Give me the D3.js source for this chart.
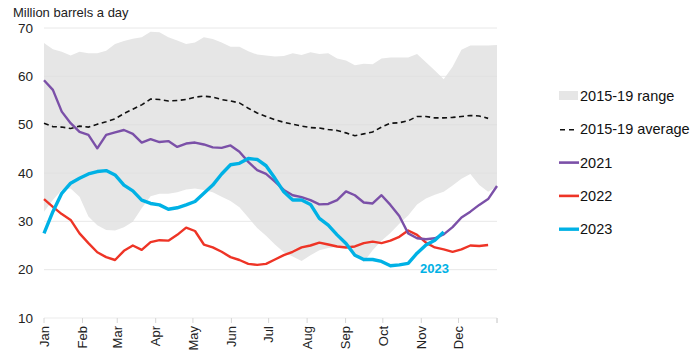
<!DOCTYPE html>
<html><head><meta charset="utf-8">
<script src="https://cdn.jsdelivr.net/npm/d3@7"></script>
<style>body{margin:0;background:#fff}svg{display:block;font-family:"Liberation Sans",Arial,sans-serif}</style>
</head><body><svg id="c" width="700" height="360"></svg>
<script>
const yTicks = [10,20,30,40,50,60,70];
const months = ["Jan","Feb","Mar","Apr","May","Jun","Jul","Aug","Sep","Oct","Nov","Dec"];
const rangeHigh = [66.9,65.6,65.1,64.3,65.1,64.8,64.8,65.3,66.7,67.3,67.8,68.1,69.2,69.1,68.1,67.4,66.7,67.0,68.1,67.7,67.0,66.1,66.1,65.2,64.5,64.3,64.1,64.2,64.8,64.4,65.0,64.6,64.8,63.7,63.3,62.3,62.6,62.5,63.7,63.9,63.9,63.9,64.6,62.9,61.2,59.4,62.0,65.5,66.4,66.4,66.4,66.5];
const rangeLow = [32.0,34.4,36.5,36.8,35.1,31.0,29.2,28.2,28.1,28.8,29.9,32.7,35.2,35.7,35.7,36.0,36.6,36.8,36.5,36.0,35.1,34.2,32.9,30.8,28.6,27.0,25.2,23.6,22.7,21.8,23.0,24.0,24.5,24.7,24.6,23.0,21.6,24.0,26.0,27.6,29.5,31.2,33.5,34.7,35.5,36.1,37.4,38.8,39.8,37.5,36.1,37.2];
const avg1519 = [50.3,49.6,49.5,49.2,49.7,49.5,50.1,50.6,51.2,52.3,53.2,54.1,55.3,55.2,54.9,55.0,55.2,55.7,55.9,55.7,55.2,54.9,54.5,53.4,52.4,51.7,51.0,50.5,50.1,49.7,49.4,49.3,49.0,48.8,48.3,47.7,48.1,48.5,49.5,50.3,50.4,50.8,51.7,51.7,51.4,51.4,51.5,51.7,51.9,51.8,51.3];
const y2021 = [59.2,57.2,52.7,50.3,48.5,47.9,45.1,47.9,48.4,48.9,48.1,46.3,47.0,46.4,46.6,45.4,46.1,46.3,45.9,45.3,45.2,45.7,44.4,42.3,40.6,39.8,38.2,36.5,35.4,35.0,34.4,33.5,33.6,34.4,36.2,35.4,33.9,33.7,35.4,33.4,31.1,27.5,26.5,26.3,26.5,27.3,28.8,30.8,32.0,33.4,34.6,37.3];
const y2022 = [34.6,33.0,31.5,30.3,27.5,25.5,23.6,22.6,22.0,23.9,25.0,24.1,25.7,26.1,26.0,27.2,28.7,28.0,25.2,24.6,23.7,22.6,22.0,21.2,21.0,21.2,22.1,23.0,23.7,24.6,25.0,25.6,25.2,24.8,24.6,24.8,25.5,25.8,25.5,26.0,26.8,28.1,27.2,25.6,24.6,24.2,23.7,24.2,25.0,24.9,25.1];
const y2023 = [27.5,32.0,35.8,37.9,38.9,39.8,40.3,40.5,39.6,37.5,36.3,34.4,33.7,33.4,32.5,32.8,33.4,34.1,35.8,37.5,39.8,41.7,42.0,43.0,42.8,41.5,38.9,36.1,34.4,34.4,33.5,30.6,29.2,27.2,25.4,23.0,22.1,22.1,21.7,20.8,21.0,21.3,23.4,25.1,26.1,27.8];
const legendItems = [
  {label:"2015-19 range", type:"area"},
  {label:"2015-19 average", type:"dash"},
  {label:"2021", type:"line", color:"#7b50a8"},
  {label:"2022", type:"line", color:"#ee3426"},
  {label:"2023", type:"line", color:"#00b1e5"}
];

const svg = d3.select("#c");
const X0 = 44, X1 = 497, YT = 28, YB = 318;
const y = d3.scaleLinear().domain([10,70]).range([YB,YT]);
const xT = d3.scaleTime().domain([new Date(2023,0,1), new Date(2024,0,1)]).range([X0,X1]);
const xW = d3.scaleLinear().domain([0,51]).range([X0,X1]);

// title
svg.append("text").attr("x",13).attr("y",17).attr("font-size",13).attr("fill","#222").text("Million barrels a day");

// range area
const area = d3.area().x((d,i)=>xW(i)).y0((d,i)=>y(rangeLow[i])).y1(d=>y(d));
svg.append("path").datum(rangeHigh).attr("d",area).attr("fill","#e6e6e6");

// gridlines
svg.append("g").selectAll("line").data(yTicks).join("line")
  .attr("x1",X0).attr("x2",X1).attr("y1",d=>y(d)).attr("y2",d=>y(d))
  .attr("stroke",d=>d===10?"#e2e2e2":"#dedede").attr("stroke-opacity",0.7).attr("stroke-width",1);

// y labels
svg.append("g").selectAll("text").data(yTicks).join("text")
  .attr("x",33).attr("y",d=>y(d)).attr("dy","0.35em").attr("text-anchor","end")
  .attr("font-size",13.5).attr("fill","#222").text(d=>d);

// x ticks
const mTicks = xT.ticks(d3.timeMonth.every(1)).concat([new Date(2024,0,1)]);
svg.append("g").selectAll("line").data(mTicks).join("line")
  .attr("x1",d=>xT(d)).attr("x2",d=>xT(d)).attr("y1",YB).attr("y2",YB+5)
  .attr("stroke","#d6d6d6");
const mLab = svg.append("g").selectAll("g").data(mTicks.slice(0,12)).join("g")
  .attr("transform",d=>`translate(${xT(d)},${YB})`);
mLab.append("text").attr("transform","rotate(-90)").attr("x",-8).attr("dy","0.36em")
  .attr("text-anchor","end").attr("font-size",13).attr("fill","#222")
  .text((d,i)=>months[i]);

// lines
const line = d3.line().x((d,i)=>xW(i)).y(d=>y(d));
svg.append("path").datum(avg1519).attr("d",line).attr("fill","none")
  .attr("stroke","#111").attr("stroke-width",1.6).attr("stroke-dasharray","5,3.5");
svg.append("path").datum(y2022).attr("d",line).attr("fill","none")
  .attr("stroke",legendItems[3].color).attr("stroke-width",2.4).attr("stroke-linejoin","round");
svg.append("path").datum(y2021).attr("d",line).attr("fill","none")
  .attr("stroke",legendItems[2].color).attr("stroke-width",2.4).attr("stroke-linejoin","round");
svg.append("path").datum(y2023).attr("d",line).attr("fill","none")
  .attr("stroke",legendItems[4].color).attr("stroke-width",3.4).attr("stroke-linejoin","round");

// 2023 label
svg.append("text").attr("x",xW(42)+3).attr("y",y(20)+3.5).attr("font-size",13).attr("font-weight","bold")
  .attr("fill",legendItems[4].color).text("2023");

// legend
const lg = svg.append("g").selectAll("g").data(legendItems).join("g")
  .attr("transform",(d,i)=>`translate(559,${96+i*33.3})`);
lg.each(function(d){
  const g = d3.select(this);
  if(d.type==="area") g.append("rect").attr("x",0).attr("y",-5).attr("width",19).attr("height",9).attr("fill","#e6e6e6");
  else if(d.type==="dash") g.append("line").attr("x1",1).attr("x2",15).attr("y1",0.5).attr("y2",0.5)
    .attr("stroke","#111").attr("stroke-width",1.6).attr("stroke-dasharray","5,4");
  else g.append("line").attr("x1",0).attr("x2",20).attr("y1",0).attr("y2",0)
    .attr("stroke",d.color).attr("stroke-width",d.label==="2023"?3.4:2.6);
  g.append("text").attr("x",21).attr("y",0).attr("dy","0.35em").attr("font-size",14.5).attr("fill","#111").text(d.label);
});
</script></body></html>
